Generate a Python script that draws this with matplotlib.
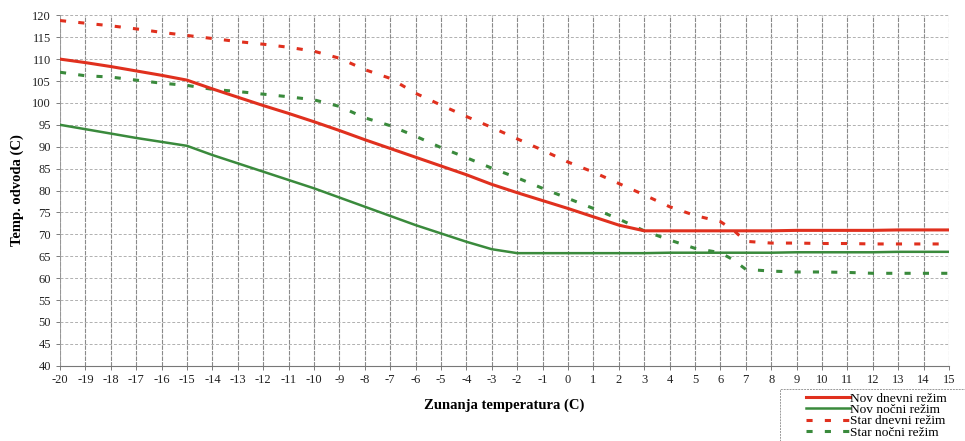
import matplotlib
matplotlib.use("Agg")
import matplotlib.pyplot as plt
from matplotlib.patches import Rectangle
import numpy as np

plt.rcParams['font.family'] = ['Liberation Serif', 'DejaVu Serif']
plt.rcParams['axes.unicode_minus'] = False

# outdoor temperature (x) for each series
x_new = [-20, -19, -18, -17, -16, -15, -14, -13, -12, -11, -10, -9, -8, -7, -6, -5, -4, -3, -2, -1,
         0, 1, 2, 3, 4, 5, 6, 7, 8, 9, 10, 11, 12, 13, 14, 15]
nov_dnevni = [110.0, 109.2, 108.3, 107.3, 106.3, 105.2, 103.2, 101.3, 99.4, 97.6, 95.7, 93.7, 91.6, 89.6,
              87.6, 85.6, 83.6, 81.4, 79.5, 77.7, 75.9, 74.0, 72.1, 70.8, 70.8, 70.8, 70.8, 70.8, 70.8,
              70.9, 70.9, 70.9, 70.9, 71.0, 71.0, 71.0]
nov_nocni = [95.0, 94.0, 93.0, 92.0, 91.1, 90.2, 88.1, 86.2, 84.3, 82.4, 80.5, 78.4, 76.3, 74.2, 72.1,
             70.2, 68.3, 66.6, 65.7, 65.7, 65.7, 65.7, 65.7, 65.7, 65.8, 65.8, 65.8, 65.8, 65.8, 65.9,
             65.9, 65.9, 65.9, 66.0, 66.0, 66.0]

x_old = [-20, -19, -18, -17, -16, -15, -14, -13, -12, -11, -10, -9, -8, -7, -6, -5, -4, -3, -2, -1,
         0, 1, 2, 3, 4, 5, 6, 6.5, 7, 8, 9, 10, 11, 12, 13, 14, 15]
star_dnevni = [118.8, 118.2, 117.6, 116.9, 116.1, 115.4, 114.7, 114.0, 113.4, 112.7, 111.8, 110.2, 107.6,
               105.6, 102.2, 99.5, 96.9, 94.4, 91.8, 89.2, 86.5, 84.2, 81.6, 79.0, 76.3, 74.3, 72.9, 71.0,
               68.4, 68.0, 68.0, 67.9, 67.9, 67.8, 67.8, 67.8, 67.8]
star_nocni = [107.0, 106.2, 105.9, 105.2, 104.5, 104.0, 103.1, 102.6, 102.0, 101.4, 100.7, 99.2, 96.6,
              94.8, 92.4, 89.8, 87.5, 85.1, 82.9, 80.5, 78.2, 75.9, 73.5, 70.8, 68.7, 66.8, 65.8, 64.2,
              62.0, 61.6, 61.4, 61.4, 61.3, 61.1, 61.1, 61.1, 61.1]

labels = ["Nov dnevni režim", "Nov nočni režim", "Star dnevni režim", "Star nočni režim"]
red = "#e0301e"
green = "#3a8a3c"

fig = plt.figure(figsize=(9.65, 4.41), dpi=100)
ax = fig.add_axes([0.0622, 0.1707, 0.9212, 0.7946])

ax.plot(x_new, nov_dnevni, color=red, lw=2.2, label=labels[0], zorder=4)
ax.plot(x_new, nov_nocni, color=green, lw=1.8, label=labels[1], zorder=4)
ax.plot(x_old, star_dnevni, color=red, lw=2.2, ls=(0, (2, 4)), label=labels[2], zorder=3)
ax.plot(x_old, star_nocni, color=green, lw=2.2, ls=(0, (2, 4)), label=labels[3], zorder=3)

ax.set_xlim(-20, 15)
ax.set_ylim(40, 120)
ax.set_xticks(np.arange(-20, 16, 1))
ax.set_yticks(np.arange(40, 121, 5))
ax.tick_params(axis='both', labelsize=9, length=3, width=0.6, color='#666666', labelcolor='#222222')
ax.tick_params(axis='x', pad=3)

ax.grid(axis='x', color='#8a8a8a', ls=(0, (4, 1)), lw=0.8)
ax.grid(axis='y', color='#b0b0b0', ls=(0, (3, 2)), lw=0.7)
for s in ['top', 'right']:
    ax.spines[s].set_visible(False)
ax.spines['left'].set_color('#999999')
ax.spines['left'].set_linewidth(0.6)
ax.spines['left'].set_linestyle((0, (3, 1)))
ax.spines['bottom'].set_color('#777777')
ax.spines['bottom'].set_linewidth(0.8)

ax.set_xlabel("Zunanja temperatura (C)", fontsize=10.5, fontweight='bold', labelpad=9)
ax.set_ylabel("Temp. odvoda (C)", fontsize=10.5, fontweight='bold', labelpad=6)

# legend box runs off the lower right corner, as in the original
box = Rectangle((0.808, -0.02), 0.21, 0.139, transform=fig.transFigure, fill=False,
                edgecolor='#999999', lw=0.7, ls=(0, (2, 1)))
fig.patches.append(box)
leg = fig.legend(loc='upper left', bbox_to_anchor=(0.835, 0.11), fontsize=9.6, frameon=False,
                 labelspacing=-0.08, handlelength=3.3, handletextpad=0.05,
                 borderpad=0, borderaxespad=0)

plt.savefig("out.png", dpi=100)
